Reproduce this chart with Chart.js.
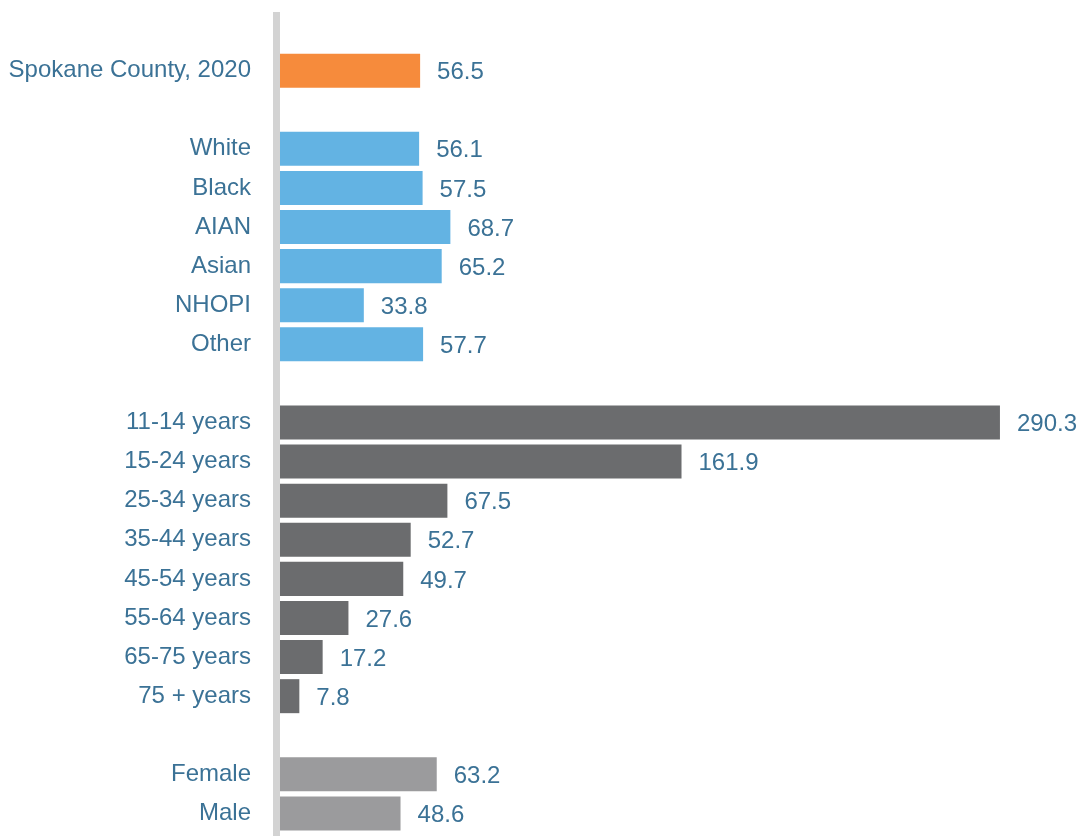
<!DOCTYPE html>
<html>
<head>
<meta charset="utf-8">
<script src="https://cdn.jsdelivr.net/npm/chart.js@4"></script>
<style>
  html, body { margin: 0; padding: 0; background: #ffffff; }
  #wrap { position: relative; width: 1084px; height: 836px; }
</style>
</head>
<body>
<div id="wrap"><canvas id="chart"></canvas></div>
<script>
// Rows of the chart; empty strings are spacer rows between groups
const categories = [
  '', 'Spokane County, 2020', '',
  'White', 'Black', 'AIAN', 'Asian', 'NHOPI', 'Other', '',
  '11-14 years', '15-24 years', '25-34 years', '35-44 years',
  '45-54 years', '55-64 years', '65-75 years', '75 + years', '',
  'Female', 'Male'
];
const rates = [
  null, 56.5, null,
  56.1, 57.5, 68.7, 65.2, 33.8, 57.7, null,
  290.3, 161.9, 67.5, 52.7, 49.7, 27.6, 17.2, 7.8, null,
  63.2, 48.6
];
// Group each row belongs to: county total, race, age, sex
const groups = [
  '', 'county', '',
  'race', 'race', 'race', 'race', 'race', 'race', '',
  'age', 'age', 'age', 'age', 'age', 'age', 'age', 'age', '',
  'sex', 'sex'
];
const groupColors = { county: '#f68b3c', race: '#63b3e3', age: '#6b6c6e', sex: '#9b9b9d' };

const labelColor = '#3b7296';
const fontFamily = '"Liberation Sans", Arial, Helvetica, sans-serif';

// Thick grey baseline to the left of the bars
const baselinePlugin = {
  id: 'baseline',
  beforeDatasetsDraw(chart) {
    const { ctx, chartArea } = chart;
    ctx.save();
    ctx.fillStyle = '#d3d3d3';
    ctx.fillRect(chartArea.left - 7, chartArea.top, 7, chart.height - chartArea.top);
    ctx.restore();
  }
};

// Value label to the right of each bar
const valueLabelPlugin = {
  id: 'valueLabels',
  afterDatasetsDraw(chart) {
    const { ctx } = chart;
    const meta = chart.getDatasetMeta(0);
    ctx.save();
    ctx.font = '24px ' + fontFamily;
    ctx.fillStyle = labelColor;
    ctx.textAlign = 'left';
    ctx.textBaseline = 'middle';
    meta.data.forEach((bar, i) => {
      const v = rates[i];
      if (v === null) return;
      ctx.fillText(v.toFixed(1), bar.x + 17, bar.y + 2);
    });
    ctx.restore();
  }
};

new Chart(document.getElementById('chart'), {
  type: 'bar',
  data: {
    labels: categories,
    datasets: [{
      data: rates,
      backgroundColor: groups.map(g => groupColors[g] || 'rgba(0,0,0,0)'),
      borderWidth: 0,
      barPercentage: 0.87,
      categoryPercentage: 1.0
    }]
  },
  options: {
    indexAxis: 'y',
    responsive: true,
    maintainAspectRatio: false,
    animation: false,
    layout: { padding: { top: 12, bottom: 3, left: 0, right: 60 } },
    plugins: {
      legend: { display: false },
      tooltip: { enabled: false }
    },
    scales: {
      x: {
        min: 0,
        max: 300,
        display: false,
        grid: { display: false }
      },
      y: {
        grid: { display: false, drawTicks: false },
        border: { display: false },
        ticks: {
          autoSkip: false,
          padding: 29,
          color: labelColor,
          font: { size: 24, family: fontFamily }
        },
        afterFit(scale) {
          scale.width = 280;
          scale.paddingTop = 0;
          scale.paddingBottom = 0;
        }
      }
    }
  },
  plugins: [baselinePlugin, valueLabelPlugin]
});
</script>
</body>
</html>
